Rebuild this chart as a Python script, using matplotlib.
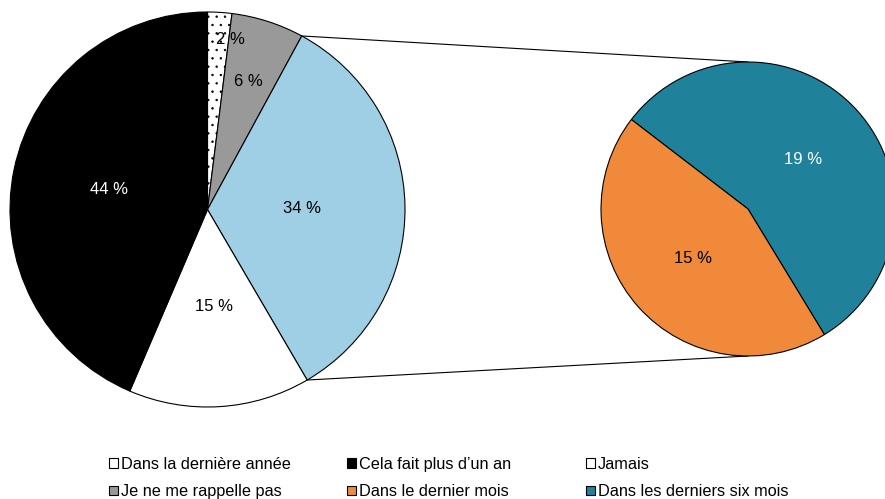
import numpy as np
import matplotlib
matplotlib.use("Agg")
import matplotlib.pyplot as plt
from matplotlib.patches import Patch

plt.rcParams["font.family"] = ["Liberation Sans", "DejaVu Sans"]
plt.rcParams["hatch.linewidth"] = 0.5

# Main pie (clockwise from 12 o'clock)
main_labels = ["Jamais", "Je ne me rappelle pas", "Dans la dernière année (détail)",
               "Dans la dernière année", "Cela fait plus d'un an"]
main_values = [2, 6, 34, 15, 44]
main_colors = ["white", "#999999", "#9ECFE4", "white", "black"]
main_hatches = ["..", None, None, None, None]
main_text_colors = ["black", "black", "black", "black", "white"]
main_label_dist = [0.87, 0.68, 0.48, 0.49, 0.51]
main_label_shift = [-4.0, 0, 0, 0, 0]  # degrees, nudges the small-slice label sideways

# Breakdown of the 34 % slice
sub_labels = ["Dans les derniers six mois", "Dans le dernier mois"]
sub_values = [19, 15]
sub_colors = ["#1F819A", "#F08A3A"]
sub_text_colors = ["white", "black"]

# Legend rows (Excel order, row by row)
legend_labels = ["Dans la dernière année", "Cela fait plus d\u2019un an", "Jamais",
                 "Je ne me rappelle pas", "Dans le dernier mois", "Dans les derniers six mois"]
legend_colors = ["white", "black", "white", "#999999", "#F08A3A", "#1F819A"]

W, H = 885, 499
fig = plt.figure(figsize=(W / 100, H / 100), dpi=100)
ax = fig.add_axes([0, 0, 1, 1])

main_c = (207.5, H - 209.5)
main_r = 197.5
sub_c = (748.0, H - 209.0)
sub_r = 147.0

wedges, _ = ax.pie(main_values, colors=main_colors, startangle=90, counterclock=False,
                   center=main_c, radius=main_r,
                   wedgeprops=dict(edgecolor="black", linewidth=0.8))
for w, h in zip(wedges, main_hatches):
    if h:
        w.set_hatch(h)

def label_at(w, dist, center, radius, text, color, shift=0.0):
    mid = np.deg2rad((w.theta1 + w.theta2) / 2 + shift)
    x = center[0] + dist * radius * np.cos(mid)
    y = center[1] + dist * radius * np.sin(mid)
    ax.text(x, y, text, ha="center", va="center", fontsize=12, color=color)

for w, v, d, c, s in zip(wedges, main_values, main_label_dist, main_text_colors, main_label_shift):
    label_at(w, d, main_c, main_r, f"{v} %", c, s)

sub_wedges, _ = ax.pie(sub_values, colors=sub_colors, startangle=142.5, counterclock=False,
                       center=sub_c, radius=sub_r,
                       wedgeprops=dict(edgecolor="black", linewidth=0.8))
for w, v, c in zip(sub_wedges, sub_values, sub_text_colors):
    label_at(w, 0.5, sub_c, sub_r, f"{v} %", c)

# Connector lines from the detailed slice to the secondary pie
blue = wedges[2]
top_ang = max(blue.theta1, blue.theta2)
bot_ang = min(blue.theta1, blue.theta2)
for ang, ty in ((top_ang, sub_c[1] + sub_r), (bot_ang, sub_c[1] - sub_r)):
    a = np.deg2rad(ang)
    x0 = main_c[0] + main_r * np.cos(a)
    y0 = main_c[1] + main_r * np.sin(a)
    ax.plot([x0, sub_c[0]], [y0, ty], color="black", linewidth=0.8, zorder=0)

ax.set_xlim(0, W)
ax.set_ylim(0, H)
ax.set_aspect("equal", adjustable="datalim")
ax.axis("off")

# Legend: three columns, two rows
col_x = [109, 347, 586]
for ci in range(3):
    handles = []
    for ri in range(2):
        k = ri * 3 + ci
        handles.append(Patch(facecolor=legend_colors[k], edgecolor="black", linewidth=0.8,
                             label=legend_labels[k]))
    fig.legend(handles=handles, loc="upper left",
               bbox_to_anchor=(col_x[ci] / W, 1 - 457 / H),
               frameon=False, fontsize=11.7, handlelength=0.55, handleheight=0.55,
               handletextpad=0.2, borderpad=0, borderaxespad=0, labelspacing=0.75)

fig.savefig("out.png", dpi=100)
